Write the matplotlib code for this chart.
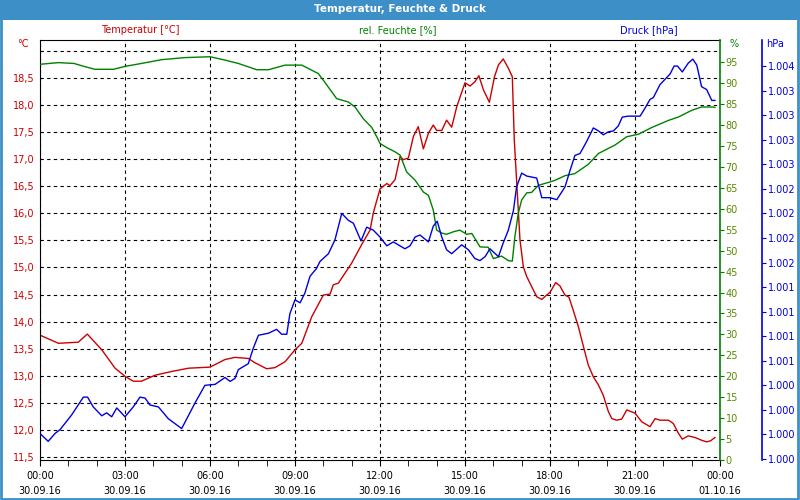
import matplotlib
matplotlib.use("Agg")
import matplotlib.pyplot as plt
import matplotlib.patches as patches
from matplotlib.ticker import FuncFormatter, MultipleLocator
import numpy as np

# hours since 30.09.16 00:00
temp_h = [0.0, 0.65, 1.35, 1.67, 2.18, 2.65, 3.0, 3.29, 3.58, 4.06, 4.65, 5.24, 6.0,
          6.53, 6.88, 7.35, 7.59, 8.0, 8.29, 8.65, 9.0, 9.24, 9.59, 10.0, 10.24, 10.35,
          10.53, 11.0, 11.35, 11.65, 11.76, 12.0, 12.24, 12.35, 12.53, 12.71, 12.82,
          13.0, 13.18, 13.35, 13.53, 13.71, 13.88, 14.0, 14.18, 14.35, 14.53, 14.71,
          15.0, 15.18, 15.35, 15.49, 15.65, 15.86, 16.04, 16.18, 16.35, 16.53, 16.67,
          16.74, 16.86, 16.94, 17.06, 17.18, 17.35, 17.53, 17.71, 17.88, 18.0, 18.2,
          18.35, 18.53, 18.67, 18.82, 19.0, 19.18, 19.35, 19.53, 19.71, 19.88, 20.06,
          20.18, 20.35, 20.53, 20.71, 21.0, 21.24, 21.53, 21.71, 21.88, 22.18, 22.35,
          22.53, 22.67, 22.88, 23.12, 23.35, 23.53, 23.67, 23.82]
temp = [13.75, 13.60, 13.62, 13.77, 13.48, 13.14, 12.99, 12.90, 12.90, 13.01, 13.08,
        13.14, 13.16, 13.30, 13.34, 13.32, 13.24, 13.13, 13.15, 13.26, 13.48, 13.60,
        14.09, 14.49, 14.51, 14.68, 14.71, 15.08, 15.42, 15.69, 16.00, 16.45, 16.55,
        16.51, 16.62, 17.05, 16.99, 17.02, 17.42, 17.60, 17.19, 17.48, 17.63, 17.53,
        17.53, 17.72, 17.59, 17.97, 18.41, 18.35, 18.43, 18.54, 18.28, 18.05, 18.52,
        18.74, 18.85, 18.68, 18.52, 17.35, 16.25, 15.51, 15.01, 14.83, 14.65, 14.46,
        14.41, 14.49, 14.54, 14.72, 14.66, 14.49, 14.45, 14.21, 13.91, 13.54, 13.20,
        12.98, 12.83, 12.64, 12.34, 12.21, 12.18, 12.20, 12.37, 12.31, 12.15, 12.06,
        12.21, 12.18, 12.18, 12.12, 11.94, 11.83, 11.89, 11.86, 11.81, 11.78, 11.80,
        11.86]

hum_h = [0.0, 0.65, 1.2, 1.5, 1.94, 2.59, 3.0, 3.58, 4.29, 5.12, 6.0, 6.53, 7.0, 7.65,
         8.06, 8.65, 9.24, 9.82, 10.0, 10.47, 10.88, 11.12, 11.41, 11.71, 11.9, 12.0,
         12.24, 12.53, 12.71, 12.94, 13.24, 13.53, 13.71, 13.88, 14.0, 14.18, 14.35,
         14.59, 14.82, 15.06, 15.24, 15.53, 15.82, 16.0, 16.29, 16.53, 16.67, 16.76,
         16.88, 17.0, 17.18, 17.35, 17.59, 18.0, 18.18, 18.53, 18.88, 19.35, 19.71,
         20.29, 20.71, 21.12, 21.59, 22.18, 22.53, 23.0, 23.35, 23.76, 23.82]
hum = [94.5, 94.9, 94.7, 94.1, 93.3, 93.3, 94.0, 94.7, 95.6, 96.1, 96.3, 95.5, 94.7,
       93.2, 93.2, 94.3, 94.3, 92.3, 90.7, 86.3, 85.5, 84.3, 81.5, 79.4, 77.0, 75.6,
       74.6, 73.6, 72.8, 68.8, 66.8, 64.0, 63.2, 59.7, 54.9, 54.2, 53.9, 54.5, 54.9,
       53.9, 54.1, 50.9, 50.8, 48.1, 48.7, 47.6, 47.5, 53.3, 58.9, 62.1, 63.8, 63.9,
       65.6, 66.4, 66.8, 67.9, 68.4, 70.6, 73.2, 75.2, 77.2, 77.8, 79.4, 81.1, 81.9,
       83.5, 84.3, 84.3, 84.2]

pres_h = [0.0, 0.29, 0.53, 0.71, 1.12, 1.53, 1.68, 1.88, 2.18, 2.35, 2.53, 2.71, 3.0,
          3.29, 3.53, 3.71, 3.88, 4.18, 4.53, 5.0, 5.47, 5.82, 6.18, 6.53, 6.71, 6.88,
          7.0, 7.35, 7.53, 7.71, 8.06, 8.35, 8.53, 8.71, 8.82, 9.0, 9.18, 9.35, 9.53,
          9.76, 9.88, 10.18, 10.41, 10.65, 10.88, 11.06, 11.33, 11.53, 11.76, 12.0,
          12.24, 12.47, 12.88, 13.06, 13.24, 13.41, 13.71, 13.88, 14.02, 14.18, 14.35,
          14.53, 14.88, 15.12, 15.35, 15.53, 15.71, 15.88, 16.18, 16.35, 16.53, 16.71,
          16.82, 17.0, 17.18, 17.53, 17.71, 18.0, 18.24, 18.53, 18.71, 18.88, 19.06,
          19.29, 19.53, 19.71, 19.88, 20.06, 20.24, 20.41, 20.55, 20.76, 21.18, 21.35,
          21.53, 21.65, 21.88, 22.24, 22.38, 22.5, 22.67, 22.88, 23.04, 23.18, 23.35,
          23.53, 23.71, 23.82]
pres = [1000.26, 1000.18, 1000.26, 1000.30, 1000.45, 1000.63, 1000.63, 1000.53,
        1000.44, 1000.47, 1000.43, 1000.52, 1000.43, 1000.53, 1000.63, 1000.62,
        1000.55, 1000.53, 1000.41, 1000.31, 1000.57, 1000.75, 1000.76, 1000.83,
        1000.79, 1000.82, 1000.91, 1000.97, 1001.13, 1001.26, 1001.28, 1001.32,
        1001.27, 1001.27, 1001.48, 1001.62, 1001.59, 1001.69, 1001.86, 1001.94,
        1002.01, 1002.09, 1002.23, 1002.50, 1002.43, 1002.40, 1002.22, 1002.36,
        1002.33, 1002.26, 1002.17, 1002.21, 1002.14, 1002.17, 1002.26, 1002.28,
        1002.21, 1002.37, 1002.42, 1002.26, 1002.13, 1002.09, 1002.18, 1002.13,
        1002.04, 1002.02, 1002.06, 1002.14, 1002.06, 1002.20, 1002.33, 1002.53,
        1002.77, 1002.91, 1002.88, 1002.86, 1002.66, 1002.66, 1002.64, 1002.77,
        1002.94, 1003.09, 1003.11, 1003.23, 1003.37, 1003.34, 1003.30, 1003.33,
        1003.34, 1003.39, 1003.48, 1003.49, 1003.49, 1003.57, 1003.66, 1003.68,
        1003.81, 1003.92, 1004.00, 1004.00, 1003.94, 1004.03, 1004.07, 1004.01,
        1003.79, 1003.76, 1003.65, 1003.65]

x_labels = ["00:00\n30.09.16", "03:00\n30.09.16", "06:00\n30.09.16",
            "09:00\n30.09.16", "12:00\n30.09.16", "15:00\n30.09.16",
            "18:00\n30.09.16", "21:00\n30.09.16", "00:00\n01.10.16"]

RED = "#cc0000"
GREEN = "#008000"
BLUE = "#0000dd"
BAR = "#3d8fc8"

plt.rcParams["font.family"] = "DejaVu Sans"
plt.rcParams["font.size"] = 7

fig = plt.figure(figsize=(8, 5), dpi=100)
fig.patch.set_facecolor("white")

# title bar and frame
fig.patches.append(patches.Rectangle((0, 0.96), 1, 0.04, transform=fig.transFigure,
                                     facecolor=BAR, edgecolor="none", zorder=0))
fig.patches.append(patches.Rectangle((0.001, 0.003), 0.997, 0.99, transform=fig.transFigure,
                                     facecolor="none", edgecolor=BAR, lw=2, zorder=0))
fig.text(0.5, 0.981, "Temperatur, Feuchte & Druck", ha="center", va="center",
         color="white", fontsize=7.5, fontweight="bold")

ax = fig.add_axes([0.05, 0.08, 0.85, 0.84])
ax2 = ax.twinx()
ax3 = ax.twinx()

# temperature axis
ax.plot(temp_h, temp, color=RED, lw=1)
ax.set_xlim(0, 24)
ax.set_ylim(11.445, 19.2)
ax.set_yticks(np.arange(11.5, 19.01, 0.5))
ax.yaxis.set_major_formatter(FuncFormatter(
    lambda v, p: "" if v > 18.9 else f"{v:.1f}".replace(".", ",")))
ax.tick_params(axis="y", length=0, pad=4, labelcolor=RED, labelsize=7)
ax.set_xticks(range(0, 25, 3))
ax.set_xticklabels(x_labels, linespacing=1.55)
ax.xaxis.set_minor_locator(MultipleLocator(1))
ax.tick_params(axis="x", which="both", direction="out", length=4, pad=4,
               labelsize=7, color="black")
ax.grid(True, color="black", lw=0.8, linestyle=(0, (3, 3)))
for s in ["left", "bottom", "top"]:
    ax.spines[s].set_color("black")
ax.spines["right"].set_visible(False)

# humidity axis
ax2.plot(hum_h, hum, color=GREEN, lw=1)
ax2.set_ylim(0, 100.3)
ax2.set_yticks(range(0, 96, 5))
ax2.tick_params(axis="y", direction="out", length=3, pad=1, color=GREEN,
                labelcolor="#5a8a00", labelsize=7)
ax2.spines["right"].set_color(GREEN)
ax2.spines["right"].set_linewidth(1.2)
for s in ["left", "bottom", "top"]:
    ax2.spines[s].set_visible(False)

# pressure axis
ax3.plot(pres_h, pres, color=BLUE, lw=1)
ax3.set_ylim(999.99, 1004.265)
ax3.set_yticks(np.arange(1000, 1004.01, 0.25))
ax3.yaxis.set_major_formatter(FuncFormatter(
    lambda v, p: f"{int(v + 1e-6) // 1000}.{int(v + 1e-6) % 1000:03d}"))
ax3.spines["right"].set_position(("axes", 722 / 680))
ax3.spines["right"].set_color(BLUE)
ax3.spines["right"].set_linewidth(1.2)
for s in ["left", "bottom", "top"]:
    ax3.spines[s].set_visible(False)
ax3.tick_params(axis="y", direction="out", length=3, pad=1, color=BLUE,
                labelcolor=BLUE, labelsize=7)

# unit and series labels
fig.text(0.028, 0.912, "°C", color=RED, fontsize=7, ha="center", va="center")
fig.text(0.912, 0.912, "%", color=GREEN, fontsize=7, ha="left", va="center")
fig.text(0.958, 0.912, "hPa", color=BLUE, fontsize=7, ha="left", va="center")
fig.text(0.175, 0.94, "Temperatur [°C]", color=RED, fontsize=7, ha="center", va="center")
fig.text(0.497, 0.94, "rel. Feuchte [%]", color=GREEN, fontsize=7, ha="center", va="center")
fig.text(0.811, 0.94, "Druck [hPa]", color=BLUE, fontsize=7, ha="center", va="center")

fig.savefig("out.png", dpi=100)
